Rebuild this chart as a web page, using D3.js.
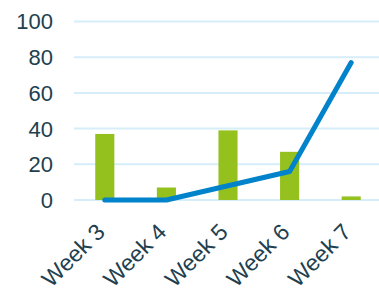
<!DOCTYPE html>
<html>
<head>
<meta charset="utf-8">
<script src="https://cdn.jsdelivr.net/npm/d3@7"></script>
<style>
  body { margin: 0; background: #fff; }
  svg text { font-family: "Liberation Sans", Arial, sans-serif; fill: #21404f; }
</style>
</head>
<body>
<div id="chart"></div>
<script>
// chart values
var weeks = ["Week 3", "Week 4", "Week 5", "Week 6", "Week 7"];
var barValues = [37, 7, 39, 27, 2];
var lineValues = [0, 0, 8, 16, 77];
var yTicks = [0, 20, 40, 60, 80, 100];

var svgWidth = 379;
var svgHeight = 289;

var svg = d3.select("#chart")
    .append("svg")
    .attr("width", svgWidth)
    .attr("height", svgHeight);

var x = d3.scaleBand()
    .domain(weeks)
    .range([74, 382])
    .paddingInner(0.69)
    .paddingOuter(0.345);

var y = d3.scaleLinear()
    .domain([0, 100])
    .range([200, 21.5]);

// gridlines
svg.append("g")
    .selectAll("line")
    .data(yTicks)
    .enter()
    .append("line")
    .attr("x1", 74)
    .attr("x2", 379)
    .attr("y1", d => y(d))
    .attr("y2", d => y(d))
    .attr("stroke", "#d6edfa")
    .attr("stroke-width", 2);

// y labels
svg.append("g")
    .selectAll("text")
    .data(yTicks)
    .enter()
    .append("text")
    .attr("x", 53)
    .attr("y", d => y(d))
    .attr("dy", "0.36em")
    .attr("text-anchor", "end")
    .style("font-size", "22px")
    .text(d => d);

// bars
svg.append("g")
    .selectAll("rect")
    .data(barValues)
    .enter()
    .append("rect")
    .attr("x", (d, i) => x(weeks[i]))
    .attr("width", x.bandwidth())
    .attr("y", d => y(d))
    .attr("height", d => y(0) - y(d))
    .attr("fill", "#95c11f");

// line
var line = d3.line()
    .x((d, i) => x(weeks[i]) + x.bandwidth() / 2)
    .y(d => y(d));

svg.append("path")
    .datum(lineValues)
    .attr("d", line)
    .attr("fill", "none")
    .attr("stroke", "#0083ca")
    .attr("stroke-width", 5)
    .attr("stroke-linecap", "round")
    .attr("stroke-linejoin", "round");

// x labels, rotated
svg.append("g")
    .selectAll("text")
    .data(weeks)
    .enter()
    .append("text")
    .attr("transform", d => `translate(${x(d) + x.bandwidth() / 2 - 10}, 222) rotate(-45)`)
    .attr("text-anchor", "end")
    .attr("dy", "0.7em")
    .style("font-size", "23px")
    .text(d => d);
</script>
</body>
</html>
